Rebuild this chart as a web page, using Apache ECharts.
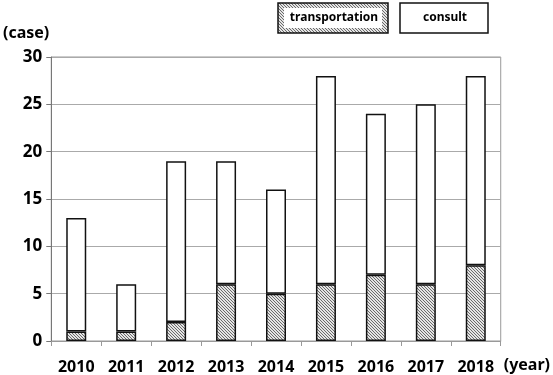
<!DOCTYPE html>
<html>
<head>
<meta charset="utf-8">
<script src="https://cdn.jsdelivr.net/npm/echarts@6/dist/echarts.min.js"></script>
<style>
  html, body { margin: 0; padding: 0; background: #fff; }
  #chart { width: 553px; height: 375px; }
</style>
</head>
<body>
<div id="chart"></div>
<script>
  // 年份
  var years = ['2010', '2011', '2012', '2013', '2014', '2015', '2016', '2017', '2018'];
  // transportation (hatched)
  var transportData = [1, 1, 2, 6, 5, 6, 7, 6, 8];
  // consult (white, stacked on top)
  var consultData = [12, 5, 17, 13, 11, 22, 17, 19, 20];
  var yTicks = [0, 5, 10, 15, 20, 25, 30];

  // fine diagonal hatch pattern
  function makeHatch() {
    var c = document.createElement('canvas');
    c.width = 3;
    c.height = 3;
    var ctx = c.getContext('2d');
    ctx.fillStyle = '#e4e4e4';
    ctx.fillRect(0, 0, 3, 3);
    ctx.fillStyle = '#6a6a6a';
    for (var i = 0; i < 3; i++) {
      ctx.fillRect(i, i, 1, 1);
    }
    return c;
  }
  var hatch = {image: makeHatch(), repeat: 'repeat'};

  var font = '"Noto Sans", "Liberation Sans", sans-serif';
  var myChart = echarts.init(document.getElementById('chart'));
  var option = {
    animation: false,
    textStyle: {fontFamily: font},
    grid: {
      left: 46,
      right: 45,
      top: 57,
      bottom: 33,
      show: true,
      borderColor: '#999',
      borderWidth: 1
    },
    xAxis: {
      type: 'category',
      data: years,
      name: '(year)',
      nameLocation: 'end',
      nameGap: 3,
      nameTextStyle: {
        fontFamily: font, fontSize: 16, fontWeight: 'bold', color: '#000',
        align: 'left', verticalAlign: 'top', padding: [16, 0, 0, 0]
      },
      axisLine: {show: true, lineStyle: {color: '#999', width: 1}},
      axisTick: {show: true, length: 5, lineStyle: {color: '#999'}},
      axisLabel: {
        margin: 18, fontSize: 16, fontWeight: 'bold', color: '#000', fontFamily: font
      }
    },
    yAxis: {
      type: 'value',
      min: yTicks[0],
      max: yTicks[yTicks.length - 1],
      interval: 5,
      name: '(case)',
      nameLocation: 'end',
      nameGap: 16,
      nameTextStyle: {
        fontFamily: font, fontSize: 16, fontWeight: 'bold', color: '#000',
        align: 'right', padding: [0, 2, 0, 0]
      },
      axisLine: {show: true, lineStyle: {color: '#777', width: 1}},
      axisTick: {show: true, length: 5, lineStyle: {color: '#777'}},
      splitLine: {show: true, lineStyle: {color: '#aaa', width: 1}},
      axisLabel: {
        margin: 9, fontSize: 17, fontWeight: 'bold', color: '#000', fontFamily: font
      }
    },
    series: [
      {
        name: 'transportation',
        type: 'bar',
        stack: 'total',
        barWidth: 20,
        data: transportData,
        itemStyle: {color: hatch, borderColor: '#111', borderWidth: 1.5}
      },
      {
        name: 'consult',
        type: 'bar',
        stack: 'total',
        barWidth: 20,
        data: consultData,
        itemStyle: {color: '#fff', borderColor: '#111', borderWidth: 1.5}
      }
    ],
    graphic: [
      {
        type: 'rect',
        shape: {x: 278, y: 3, width: 110, height: 30},
        style: {fill: hatch, stroke: '#111', lineWidth: 1.5}
      },
      {
        type: 'rect',
        shape: {x: 284, y: 8, width: 98, height: 20},
        style: {fill: '#fff'}
      },
      {
        type: 'text',
        x: 334, y: 18,
        style: {
          text: 'transportation', fontFamily: font, fontSize: 12, fontWeight: 'bold',
          fill: '#000', align: 'center', verticalAlign: 'middle'
        }
      },
      {
        type: 'rect',
        shape: {x: 400, y: 3, width: 88, height: 30},
        style: {fill: '#fff', stroke: '#111', lineWidth: 1.5}
      },
      {
        type: 'text',
        x: 445, y: 18,
        style: {
          text: 'consult', fontFamily: font, fontSize: 12, fontWeight: 'bold',
          fill: '#000', align: 'center', verticalAlign: 'middle'
        }
      }
    ]
  };
  myChart.setOption(option);
</script>
</body>
</html>
